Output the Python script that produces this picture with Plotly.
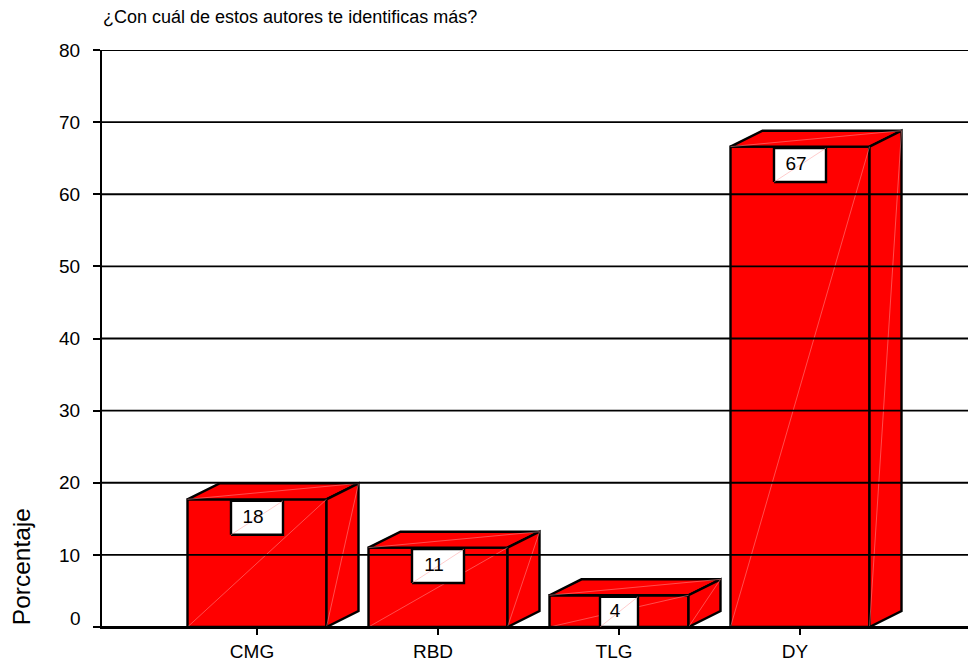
import plotly.graph_objects as go

categories = ["CMG", "RBD", "TLG", "DY"]
percent = [17.7, 11.0, 4.4, 66.6]
labels = ["18", "11", "4", "67"]
y_ticks = [0, 10, 20, 30, 40, 50, 60, 70, 80]
title_text = "¿Con cuál de estos autores te identificas más?"
y_title = "Porcentaje"

# the page body adds an 8px margin, so the figure is 8px smaller than the window
PAGE = 8
W, H = 976 - PAGE, 662 - PAGE
L, T, B = 102 - PAGE, 50 - PAGE, 33
PX_X = 181.0
PX_Y = (H - T - B) / 80.0
X0 = -(257 - 102) / PX_X
X1 = X0 + (W - L) / PX_X

half = 69.5 / PX_X
dx = 32 / PX_X
dy = 16 / PX_Y
FONT = "Liberation Sans"
INK = "#000000"
RED = "#ff0000"
SEAM = "#ff9a9a"
TICK_SIZE = 19

fig = go.Figure()


def poly(xs, ys, fill):
    fig.add_trace(go.Scatter(x=xs + xs[:1], y=ys + ys[:1], mode="lines", fill="toself",
                             fillcolor=fill, line=dict(color=INK, width=2.4),
                             hoverinfo="skip", showlegend=False, cliponaxis=False))


def seam(x0, y0, x1, y1):
    fig.add_trace(go.Scatter(x=[x0, x1], y=[y0, y1], mode="lines",
                             line=dict(color=SEAM, width=0.5),
                             hoverinfo="skip", showlegend=False, cliponaxis=False))


for i, v in enumerate(percent):
    xl, xr = i - half, i + half
    poly([xl, xr, xr, xl], [0, 0, v, v], RED)
    poly([xl, xr, xr + dx, xl + dx], [v, v, v + dy, v + dy], RED)
    poly([xr, xr + dx, xr + dx, xr], [0, dy, v + dy, v], RED)
    seam(xl, 0, xr, v)
    seam(xl, v, xr + dx, v + dy)
    seam(xr, 0, xr + dx, v + dy)

grid_x, grid_y = [], []
for t in y_ticks:
    grid_x += [X0, X1, None]
    grid_y += [t, t, None]
fig.add_trace(go.Scatter(x=grid_x, y=grid_y, mode="lines", line=dict(color=INK, width=1.9),
                         hoverinfo="skip", showlegend=False, cliponaxis=False))

for i, (v, s) in enumerate(zip(percent, labels)):
    top = v - 1.5 / PX_Y
    bottom = max(0, top - 34 / PX_Y)
    bw = (19 if bottom == 0 else 26) / PX_X
    poly([i - bw, i + bw, i + bw, i - bw], [bottom, bottom, top, top], "#ffffff")
    seam(i - bw, bottom, i + bw, top)
    fig.add_trace(go.Scatter(x=[i - 4 / PX_X], y=[(top + bottom) / 2], mode="text", text=[s],
                             textposition="middle center",
                             textfont=dict(family=FONT, size=TICK_SIZE, color=INK),
                             hoverinfo="skip", showlegend=False, cliponaxis=False))

fig.update_layout(
    width=W, height=H, margin=dict(l=L, r=0, t=T, b=B),
    paper_bgcolor="white", plot_bgcolor="white", showlegend=False,
    font=dict(family=FONT, color=INK),
    title=dict(text=title_text, xref="container", yref="container", x=(103 - PAGE) / W,
               y=1 - (17 - PAGE) / H,
               xanchor="left", yanchor="middle", font=dict(family=FONT, size=18, color=INK)),
    xaxis=dict(range=[X0, X1], tickmode="array", tickvals=list(range(len(categories))),
               ticktext=categories, ticks="outside", ticklen=6, tickwidth=2, tickcolor=INK,
               showgrid=False, zeroline=False, showline=True, linecolor=INK, linewidth=2,
               ticklabelshift=-5,
               tickfont=dict(family=FONT, size=TICK_SIZE, color=INK), layer="above traces"),
    yaxis=dict(range=[0, 80], tickmode="array", tickvals=y_ticks,
               ticktext=[" " if t == 0 else str(t) for t in y_ticks],
               ticks="outside", ticklen=7, tickwidth=2, tickcolor=INK,
               showgrid=False, zeroline=False, showline=True, linecolor=INK, linewidth=2,
               ticklabelstandoff=9, tickfont=dict(family=FONT, size=TICK_SIZE, color=INK),
               layer="above traces"),
    annotations=[
        dict(text="0", xref="paper", yref="y", x=-19 / (W - L), y=0, yshift=9, xanchor="right",
             yanchor="middle", showarrow=False, font=dict(family=FONT, size=TICK_SIZE, color=INK)),
        dict(text=y_title, xref="paper", yref="paper", x=(21 - 102) / (W - L),
             y=(629 - 569) / (H - T - B), textangle=-90, xanchor="center", yanchor="middle",
             showarrow=False, font=dict(family=FONT, size=24.5, color=INK)),
    ],
)

fig.write_html("out.html")
